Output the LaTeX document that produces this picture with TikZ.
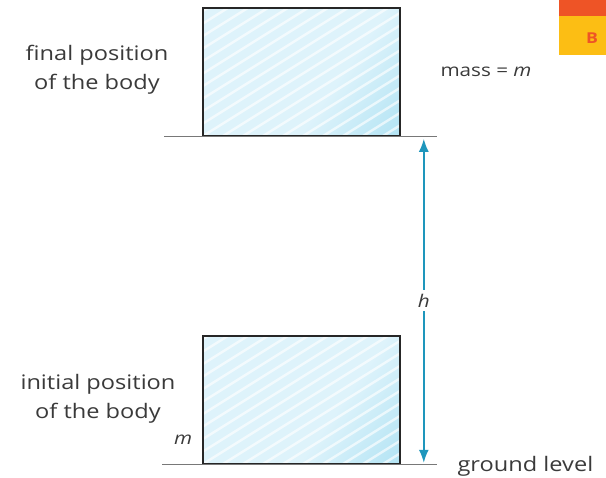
\documentclass[tikz,border=0pt]{standalone}
\usepackage{fontspec}
\setmainfont{Open Sans}[FakeStretch=1.18]
\usetikzlibrary{arrows.meta, positioning, calc}
\definecolor{ink}{RGB}{58, 58, 58}
\definecolor{rule}{RGB}{120, 120, 120}
\definecolor{boxlight}{RGB}{222, 243, 251}
\definecolor{boxmid}{RGB}{180, 228, 244}
\definecolor{boxdark}{RGB}{30, 168, 210}
\definecolor{arrowblue}{RGB}{30, 150, 188}
\definecolor{badgetop}{RGB}{238, 84, 38}
\definecolor{badgefill}{RGB}{252, 190, 20}
\pgfdeclarehorizontalshading{bodyshade}{100bp}{color(0bp)=(boxlight); color(60bp)=(boxlight); color(84bp)=(boxmid); color(92bp)=(boxmid!55!boxdark); color(100bp)=(boxdark)}
\tikzset{
    body/.style={draw=black!85, line width=1.6pt, minimum width=197pt, minimum height=128pt,
        shading=bodyshade, shading angle=-35,
        path picture={
            \foreach \k in {-12,...,10}
                \draw[white, opacity=0.65, line width=2.4pt]
                    ($(path picture bounding box.south west)+(\k*20, 0)$) -- ++(240, -150);
        }},
    level/.style={draw=rule, line width=1pt},
    label/.style={text=ink, font=\fontsize{20}{29}\selectfont, align=center},
    small label/.style={text=ink, font=\fontsize{17.5}{20}\selectfont},
}

\begin{document}
\begin{tikzpicture}[x=1pt, y=-1pt]
        \useasboundingbox (0, 0) rectangle (606, 478);
        \node[body] (final) at (301.5, 72) {};
        \node[body] (initial) at (301.5, 400) {};
        \draw[level] ($(final.south west)+(-38, 0)$) -- ($(final.south east)+(36, 0)$);
        \draw[level] ($(initial.south west)+(-40, 0)$) -- ($(initial.south east)+(36, 0)$);
        \coordinate (htop) at ($(final.south east)+(23, 2)$);
        \coordinate (hbot) at ($(initial.south east)+(23, -2)$);
        \draw[arrowblue, line width=1.7pt, {Latex[length=13pt, width=10pt]}-{Latex[length=13pt, width=10pt]}]
            (htop) -- node[small label, fill=white, inner sep=4pt] (hlabel) {\textit{h}} (hbot);
        \node[label] (finaltext) at (97, 70) {final position\\of the body};
        \node[small label, anchor=west] (masstext) at (437, 72) {mass = \textit{m}};
        \node[label] (initialtext) at (98, 399) {initial position\\of the body};
        \node[small label] (masslabel) at (183, 440) {\textit{m}};
        \node[label, anchor=west] (groundtext) at (454, 466) {ground level};
        \fill[badgefill] (559, 15) rectangle (606, 55);
        \fill[badgetop] (559, 0) rectangle (606, 16);
        \node[text=badgetop, font=\bfseries\fontsize{15}{15}\selectfont] (badge) at (592, 38) {B};
    \end{tikzpicture}
\end{document}
